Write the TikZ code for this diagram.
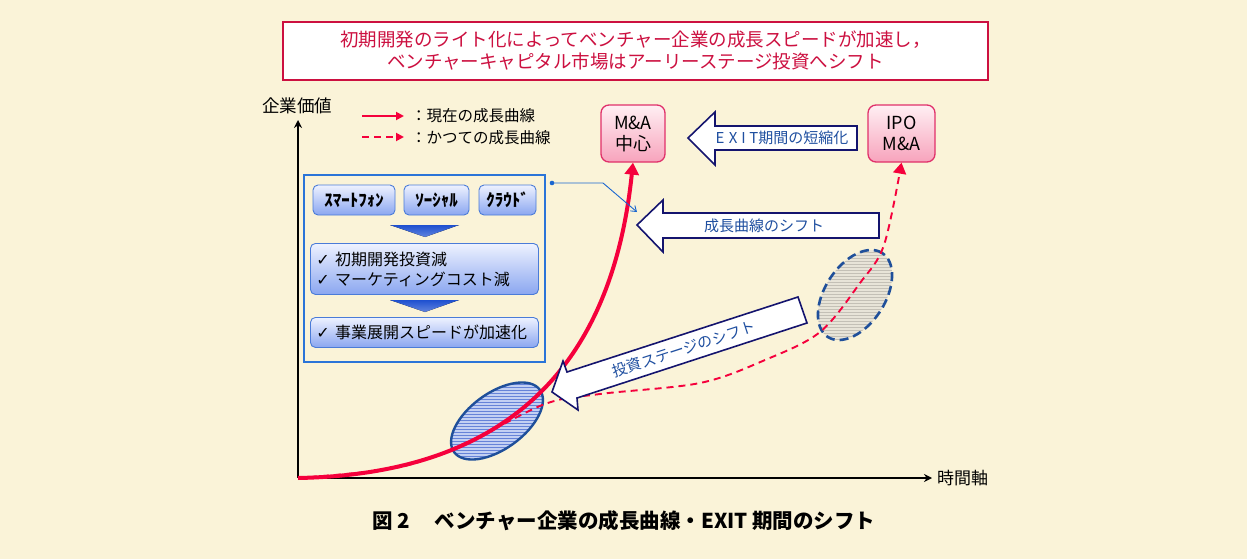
\documentclass[tikz,border=0pt]{standalone}
\usepackage{fontspec}
\usepackage{graphicx}
\newfontfamily\jp{Noto Sans CJK JP}
\newfontfamily\dv{DejaVu Sans}
\usetikzlibrary{arrows.meta,patterns}
\definecolor{bg}{HTML}{FAF3D8}
\definecolor{topred}{HTML}{CC1040}
\definecolor{curvered}{HTML}{F5003C}
\definecolor{pinkborder}{HTML}{E0306A}
\definecolor{pinktop}{HTML}{FFEFF3}
\definecolor{pinkbot}{HTML}{F7A3BC}
\definecolor{navy}{HTML}{14146E}
\definecolor{textblue}{HTML}{1F4FA0}
\definecolor{infoblue}{HTML}{2A74D8}
\definecolor{boxborder}{HTML}{4A7BD8}
\definecolor{boxtop}{HTML}{EEF2FF}
\definecolor{boxbot}{HTML}{8AA6F0}
\definecolor{tri}{HTML}{1E50D0}
\definecolor{ellblue}{HTML}{1F4F9A}
\definecolor{ellfill}{HTML}{C3D0F3}
\definecolor{ellhatch}{HTML}{6683D8}
\definecolor{grayfill}{HTML}{E8E4D8}
\definecolor{grayhatch}{HTML}{C4C0B6}
\definecolor{connblue}{HTML}{1A66D0}
\tikzset{
  jpf/.style={font=\jp\fontsize{#1}{20}\selectfont},
  pinkbox/.style={draw=pinkborder, line width=1.3pt, rounded corners=8pt,
    top color=pinktop, bottom color=pinkbot, minimum width=64pt,
    minimum height=57pt, align=center, inner sep=2pt,
    font=\jp\fontsize{18}{21}\selectfont},
  smallbox/.style={draw=boxborder, line width=0.9pt, rounded corners=5pt,
    top color=boxtop, bottom color=boxbot, inner sep=0pt},
  bigarrow/.style={draw=navy, line width=1.6pt, fill=white, line join=miter},
  arrowtext/.style={text=textblue, font=\jp\fontsize{15}{17}\selectfont},
  redsolid/.style={draw=curvered, line width=4pt,
    -{Triangle[width=14pt,length=12pt]}},
  reddash/.style={draw=curvered, line width=1.9pt, dash pattern=on 7pt off 5pt,
    -{Triangle[width=13pt,length=11pt]}},
  axis/.style={draw=black, line width=1.5pt, -{Stealth[width=8pt,length=8pt]}},
}
\begin{document}
\begin{tikzpicture}[x=1pt,y=-1pt]
\useasboundingbox (0,0) rectangle (1247,559);
\fill[bg] (0,0) rectangle (1247,559);

% title box
\node[draw=topred, line width=1.5pt, fill=white, minimum width=705pt,
  minimum height=58pt, align=center, text=topred, inner sep=0pt,
  font=\jp\fontsize{18.5}{22}\selectfont] (top) at (635.5,51)
  {初期開発のライト化によってベンチャー企業の成長スピードが加速し，\\ベンチャーキャピタル市場はアーリーステージ投資へシフト};

% axes
\coordinate (O) at (298,478);
\coordinate (ytop) at (298,120);
\coordinate (xend) at (932,478);
\draw[axis] (O) -- (ytop);
\draw[axis] (O) -- (xend);
\node[jpf=17.5, anchor=center] (ylab) at (297,106) {企業価値};
\node[jpf=17, anchor=west, inner sep=0pt] (xlab) at (937,478) {時間軸};

% legend
\coordinate (l1a) at (362,116);
\coordinate (l1b) at (404,116);
\coordinate (l2a) at (362,137);
\coordinate (l2b) at (404,137);
\draw[draw=curvered, line width=1.8pt, -{Triangle[width=8pt,length=8pt]}] (l1a) -- (l1b);
\draw[draw=curvered, line width=1.8pt, dash pattern=on 7pt off 5pt, -{Triangle[width=8pt,length=8pt]}] (l2a) -- (l2b);
\node[jpf=15.5, anchor=west, inner sep=0pt] (leg1) at (411,116) {：現在の成長曲線};
\node[jpf=15.5, anchor=west, inner sep=0pt] (leg2) at (411,138) {：かつての成長曲線};

% exit boxes
\node[pinkbox] (ma) at (633,133.5) {M\&A\\中心};
\node[pinkbox, minimum width=67pt] (ipo) at (901.5,133.5) {IPO\\M\&A};

% ellipses
\fill[ellfill, shift={(497,421)}, rotate=36] (0,0) ellipse [x radius=53pt, y radius=28pt];
\path[pattern=horizontal lines, pattern color=ellhatch, shift={(497,421)}, rotate=36] (0,0) ellipse [x radius=53pt, y radius=28pt];
\draw[ellblue, line width=2.4pt, shift={(497,421)}, rotate=36] (0,0) ellipse [x radius=53pt, y radius=28pt];

\fill[grayfill, shift={(855,295)}, rotate=57] (0,0) ellipse [x radius=50pt, y radius=30pt];
\path[pattern=horizontal lines, pattern color=grayhatch, shift={(855,295)}, rotate=57] (0,0) ellipse [x radius=50pt, y radius=30pt];
\draw[ellblue, line width=2.6pt, dash pattern=on 9pt off 5pt, shift={(855,295)}, rotate=57] (0,0) ellipse [x radius=50pt, y radius=30pt];

% growth curves
\draw[reddash] plot[smooth, tension=0.55] coordinates {(O) (400,467) (470,441) (545,404) (600,394) (700,383) (765,360) (820,332) (860,283) (884,245) (ipo.south)};
\draw[redsolid] (O) .. controls (510,474) and (612,364) .. (ma.south);

% info box
\node[draw=infoblue, line width=1.5pt, minimum width=241pt, minimum height=187pt,
  anchor=north west, inner sep=0pt] (info) at (303,174) {};
\node[smallbox, minimum width=82pt, minimum height=30pt] (sp) at (354,200)
  {\jp\fontsize{17}{18}\selectfont\bfseries ｽﾏｰﾄﾌｫﾝ};
\node[smallbox, minimum width=65pt, minimum height=30pt] (so) at (436.5,200)
  {\jp\fontsize{17}{18}\selectfont\bfseries ｿｰｼｬﾙ};
\node[smallbox, minimum width=57pt, minimum height=30pt] (cl) at (507.5,200)
  {\jp\fontsize{17}{18}\selectfont\bfseries ｸﾗｳﾄﾞ};
\node[smallbox, minimum width=228pt, minimum height=51pt, anchor=north west,
  align=left, text width=216pt, inner xsep=6pt, jpf=16] (b2) at (310,243)
  {{\dv ✓} 初期開発投資減\\{\dv ✓} マーケティングコスト減};
\node[smallbox, minimum width=228pt, minimum height=30pt, anchor=north west,
  align=left, text width=216pt, inner xsep=6pt, jpf=16] (b3) at (310,317)
  {{\dv ✓} 事業展開スピードが加速化};
\fill[top color=tri, bottom color=tri!70!white] (390,225) -- (459,225) -- (425,237) -- cycle;
\fill[top color=tri, bottom color=tri!70!white] (390,300) -- (459,300) -- (425,312) -- cycle;

% connector
\coordinate (dot) at (552,183);
\coordinate (bend) at (603,183);
\coordinate (cend) at (637,212);
\fill[connblue] (dot) circle (2.3pt);
\draw[connblue, line width=0.9pt, -{Straight Barb[length=5pt,width=7pt]}] (dot) -- (bend) -- (cend);

% big arrows
\draw[bigarrow] (688,138) -- (715,112) -- (715,126) -- (857,126) -- (857,150) -- (715,150) -- (715,165) -- cycle;
\node[arrowtext] (exitt) at (782,138) {E\hspace{0.3em}X\hspace{0.25em}I\hspace{0.25em}T期間の短縮化};

\draw[bigarrow] (637,225) -- (663,200) -- (663,213) -- (879,213) -- (879,238) -- (663,238) -- (663,252) -- cycle;
\node[arrowtext] (shiftt) at (764,226) {成長曲線のシフト};

\draw[bigarrow] (552,392) -- (563,361) -- (567,372) -- (798,297) -- (807,323) -- (577,398) -- (578,410) -- cycle;
\node[arrowtext, rotate=18] (staget) at (684,349) {投資ステージのシフト};

% caption
\node[font=\jp\fontsize{20.5}{24}\selectfont\bfseries] (cap) at (624,521)
  {図 2\hspace{1.2em}ベンチャー企業の成長曲線・EXIT 期間のシフト};
\end{tikzpicture}
\end{document}
